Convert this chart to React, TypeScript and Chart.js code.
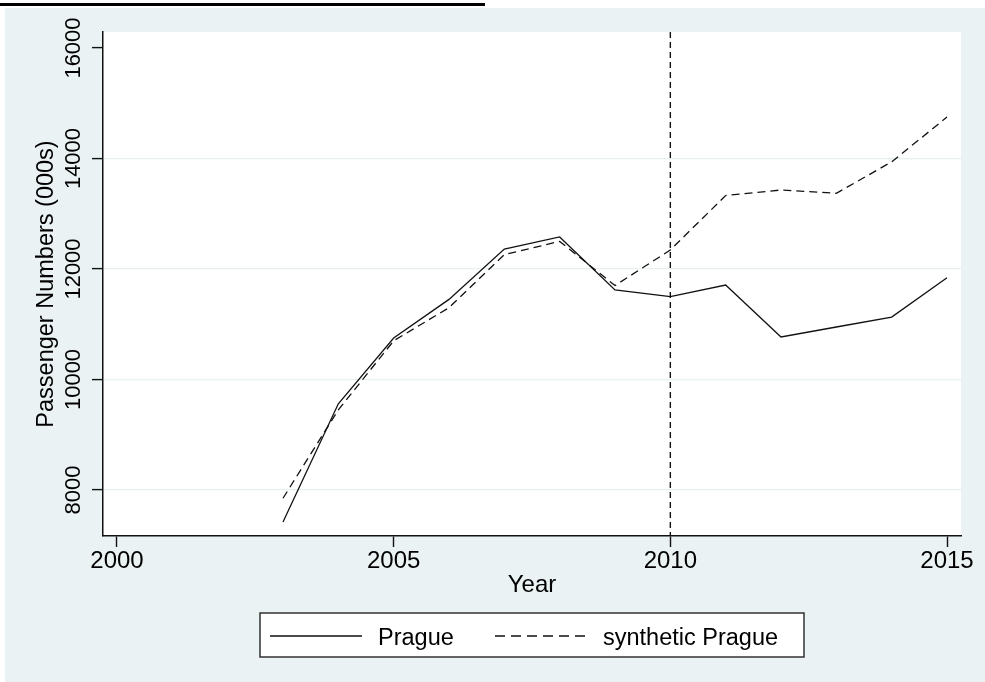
import React, { useEffect, useRef } from "react";
import { Chart, registerables } from "chart.js";

Chart.register(...registerables);

const years = [2003, 2004, 2005, 2006, 2007, 2008, 2009, 2010, 2011, 2012, 2013, 2014, 2015];
const prague = [7420, 9560, 10750, 11450, 12360, 12580, 11620, 11500, 11710, 10770, 10950, 11130, 11840];
const syntheticPrague = [7850, 9450, 10700, 11300, 12260, 12500, 11700, 12345, 13330, 13430, 13370, 13940, 14750];
const seriesLabels = ["Prague", "synthetic Prague"];
const xTicks = [2000, 2005, 2010, 2015];
const yTicks = [8000, 10000, 12000, 14000, 16000];
const treatmentYear = 2010;
const xTitle = "Year";
const yTitle = "Passenger Numbers (000s)";

const FONT = "'Liberation Sans', Arial, sans-serif";

const customPlugin = {
  id: "stataLook",
  beforeDraw(chart: any) {
    const { ctx, chartArea, width, height } = chart;
    ctx.save();
    ctx.fillStyle = "#ffffff";
    ctx.fillRect(0, 0, width, height);
    ctx.fillStyle = "#eaf2f3";
    ctx.fillRect(5, 8, width - 5, height - 8);
    ctx.fillStyle = "#000000";
    ctx.fillRect(0, 3, 485, 3);
    ctx.fillStyle = "#ffffff";
    ctx.fillRect(chartArea.left, chartArea.top, chartArea.right - chartArea.left, chartArea.bottom - chartArea.top);
    ctx.restore();
  },
  afterDatasetsDraw(chart: any) {
    const { ctx, chartArea } = chart;
    const x = chart.scales.x.getPixelForValue(treatmentYear);
    ctx.save();
    ctx.strokeStyle = "#111";
    ctx.lineWidth = 1.4;
    ctx.setLineDash([6, 4]);
    ctx.beginPath();
    ctx.moveTo(x, chartArea.top);
    ctx.lineTo(x, chartArea.bottom);
    ctx.stroke();
    ctx.restore();
  },
  afterDraw(chart: any) {
    const { ctx, chartArea } = chart;
    const xs = chart.scales.x;
    const ys = chart.scales.y;
    ctx.save();
    ctx.fillStyle = "#000";
    // x tick labels
    ctx.font = `24px ${FONT}`;
    ctx.textAlign = "center";
    ctx.textBaseline = "alphabetic";
    xTicks.forEach((v) => {
      ctx.fillText(String(v), xs.getPixelForValue(v), 568);
    });
    // x title
    ctx.fillText(xTitle, (chartArea.left + chartArea.right) / 2, 592);
    // y tick labels
    ctx.font = `22px ${FONT}`;
    yTicks.forEach((v) => {
      ctx.save();
      ctx.translate(80, ys.getPixelForValue(v));
      ctx.rotate(-Math.PI / 2);
      ctx.fillText(String(v), 0, 0);
      ctx.restore();
    });
    // y title
    ctx.font = `23.5px ${FONT}`;
    ctx.save();
    ctx.translate(53, (chartArea.top + chartArea.bottom) / 2);
    ctx.rotate(-Math.PI / 2);
    ctx.fillText(yTitle, 0, 0);
    ctx.restore();
    // legend
    const bx = 260, by = 613, bw = 544, bh = 44;
    ctx.fillStyle = "#ffffff";
    ctx.fillRect(bx, by, bw, bh);
    ctx.strokeStyle = "#333";
    ctx.lineWidth = 1.5;
    ctx.setLineDash([]);
    ctx.strokeRect(bx, by, bw, bh);
    const items = [
      { x0: 270, x1: 362, tx: 378 },
      { x0: 495, x1: 590, tx: 603 },
    ];
    chart.data.datasets.forEach((ds: any, i: number) => {
      const it = items[i];
      ctx.strokeStyle = "#111";
      ctx.lineWidth = 1.4;
      ctx.setLineDash(ds.borderDash && ds.borderDash.length ? [10, 6] : []);
      ctx.beginPath();
      ctx.moveTo(it.x0, 636);
      ctx.lineTo(it.x1, 636);
      ctx.stroke();
      ctx.setLineDash([]);
      ctx.fillStyle = "#000";
      ctx.font = `23.5px ${FONT}`;
      ctx.textAlign = "left";
      ctx.fillText(ds.label, it.tx, 645);
    });
    ctx.restore();
  },
};

export default function App() {
  const ref = useRef<HTMLCanvasElement | null>(null);
  useEffect(() => {
    if (!ref.current) return;
    const chart = new Chart(ref.current, {
      type: "line",
      data: {
        datasets: [
          {
            label: seriesLabels[0],
            data: years.map((y, i) => ({ x: y, y: prague[i] })),
            borderColor: "#111",
            borderWidth: 1.3,
            pointRadius: 0,
            tension: 0,
            fill: false,
          },
          {
            label: seriesLabels[1],
            data: years.map((y, i) => ({ x: y, y: syntheticPrague[i] })),
            borderColor: "#111",
            borderWidth: 1.3,
            borderDash: [8, 5],
            pointRadius: 0,
            tension: 0,
            fill: false,
          },
        ],
      },
      options: {
        responsive: false,
        animation: false,
        layout: { padding: { top: 32, right: 24, left: 0, bottom: 0 } },
        plugins: { legend: { display: false }, tooltip: { enabled: false }, title: { display: false } },
        scales: {
          x: {
            type: "linear",
            min: 1999.747,
            max: 2015.253,
            afterBuildTicks: (s: any) => {
              s.ticks = xTicks.map((v) => ({ value: v }));
            },
            afterFit: (s: any) => {
              s.height = 146;
            },
            ticks: { display: false },
            grid: {
              color: "rgba(0,0,0,0)",
              tickColor: "#111",
              tickLength: 11,
              tickWidth: 1.4,
              drawTicks: true,
            },
            border: { display: true, color: "#111", width: 1.5 },
          },
          y: {
            type: "linear",
            min: 7167,
            max: 16290,
            afterBuildTicks: (s: any) => {
              s.ticks = yTicks.map((v) => ({ value: v }));
            },
            afterFit: (s: any) => {
              s.width = 103;
            },
            ticks: { display: false },
            grid: {
              color: (c: any) => (c.tick && c.tick.value === 16000 ? "rgba(0,0,0,0)" : "#e8f0f0"),
              lineWidth: 1.2,
              tickColor: "#111",
              tickLength: 11,
              tickWidth: 1.4,
              drawTicks: true,
            },
            border: { display: true, color: "#111", width: 1.5 },
          },
        },
      },
      plugins: [customPlugin],
    });
    return () => chart.destroy();
  }, []);
  return (
    <div style={{ position: "absolute", left: 0, top: 0, width: 985, height: 682 }}>
      <canvas ref={ref} width={985} height={682} style={{ display: "block" }} />
    </div>
  );
}
